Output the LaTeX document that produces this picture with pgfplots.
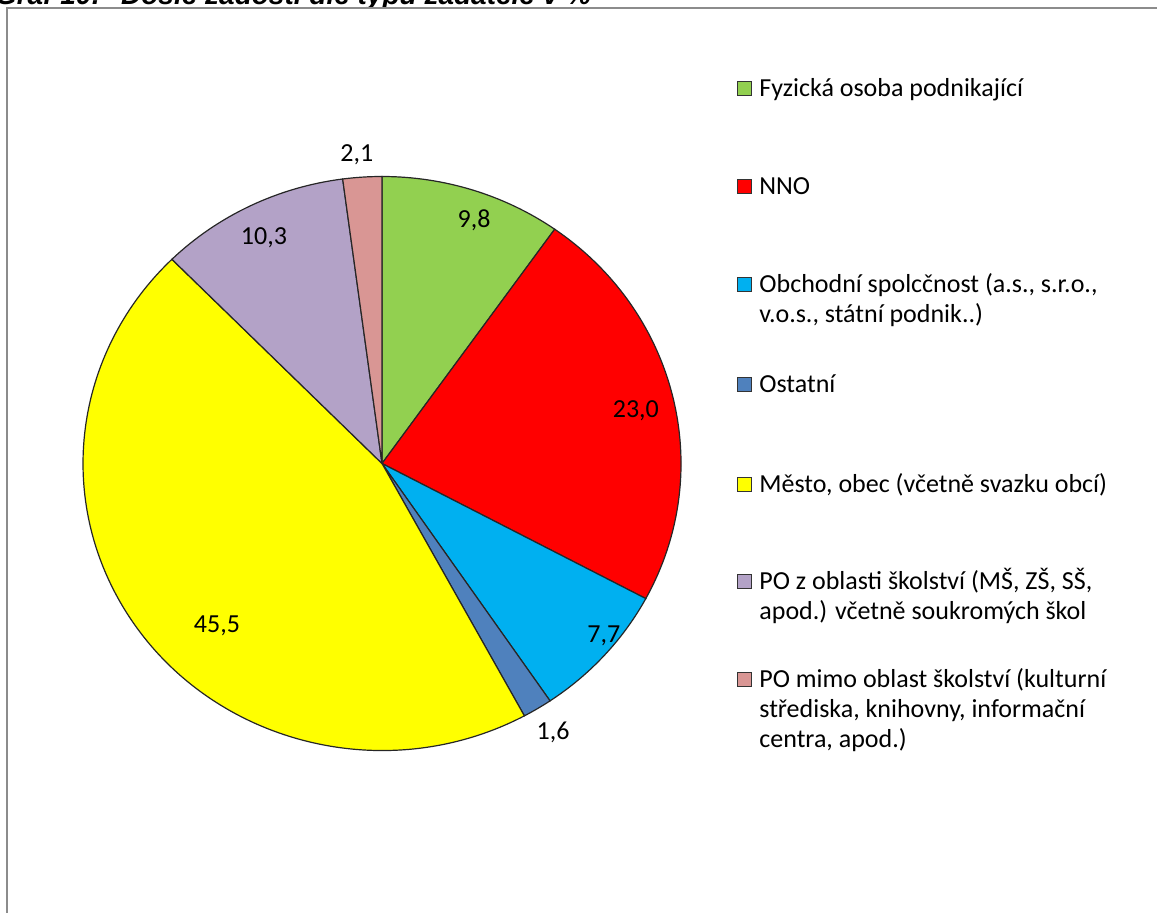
\documentclass[border=0pt]{standalone}
\usepackage{fontspec}
\setmainfont{Carlito}
\newfontfamily\titlefont{Liberation Sans}
\usepackage{pgfplots}
\usepackage{pgfplotstable}
\pgfplotsset{compat=1.18}

\definecolor{cFyz}{HTML}{92D050}
\definecolor{cNNO}{HTML}{FF0000}
\definecolor{cObch}{HTML}{00B0F0}
\definecolor{cOst}{HTML}{4F81BD}
\definecolor{cMes}{HTML}{FFFF00}
\definecolor{cPOs}{HTML}{B3A2C7}
\definecolor{cPOm}{HTML}{D99694}
\definecolor{frameg}{HTML}{8C8C8C}

% share in %, colour, label position (in radii)
\pgfplotstableread{
val  col   lx     ly
9.8  cFyz  0.308  0.848
23.0 cNNO  0.849  0.183
7.7  cObch 0.742 -0.601
1.6  cOst  0.572 -0.936
45.5 cMes -0.552 -0.566
10.3 cPOs -0.395  0.786
2.1  cPOm -0.084  1.075
}\piedata

% pixel position of the reference -> picture coordinates
\newcommand\pxy[2]{({(#1)*0.5pt},{-(#2)*0.5pt})}
\newcommand\lfont{\fontsize{13}{15}\selectfont}

\begin{document}
\begin{tikzpicture}
\path[use as bounding box] (0,0) rectangle (578.5pt,-456.5pt);

% title, cut off by the top of the picture
\begin{scope}
  \clip (0,0) rectangle (578.5pt,-3.5pt);
  \node[anchor=base east, inner sep=0pt, font=\titlefont\bfseries\itshape\fontsize{14}{16}\selectfont]
    at \pxy{591.5}{4.7} {Graf 10:\hspace{5pt} Došlé žádosti dle typu žadatele v \%};
\end{scope}
\draw[frameg, line width=1pt] \pxy{7}{914} -- \pxy{7}{8} -- \pxy{1158}{8};

\begin{axis}[
  hide axis,
  x=149.5pt, y=143.5pt,
  xmin=-1, xmax=1, ymin=-1, ymax=1,
  at={(191pt,-231.75pt)}, anchor=origin,
  clip=false,
]
\gdef\piecum{90}
\pgfplotsinvokeforeach{0,...,6}{%
  \pgfplotstablegetelem{#1}{val}\of\piedata \let\pieval\pgfplotsretval
  \pgfplotstablegetelem{#1}{col}\of\piedata \let\piecol\pgfplotsretval
  \pgfplotstablegetelem{#1}{lx}\of\piedata \let\pielx\pgfplotsretval
  \pgfplotstablegetelem{#1}{ly}\of\piedata \let\piely\pgfplotsretval
  \pgfmathsetmacro\piea{\piecum}
  \pgfmathsetmacro\pieb{\piecum-3.6*\pieval}
  \xdef\piecum{\pieb}
  \edef\next{%
    \noexpand\filldraw[fill=\piecol, draw=black!85, line width=0.6pt]
      (axis cs:0,0) -- (axis cs:{cos(\piea)},{sin(\piea)})
      arc[start angle=\piea, end angle=\pieb, x radius=149.5pt, y radius=143.5pt] -- cycle;
    \noexpand\node[font=\noexpand\lfont, inner sep=0pt] at (axis cs:\pielx,\piely)
      {\noexpand\pgfmathprintnumber[use comma, fixed, fixed zerofill, precision=1, assume math mode=true]{\pieval}};
  }%
  \next
}
\end{axis}

% legend
\foreach \y/\c in {97/cFyz,195/cNNO,293/cObch,393/cOst,493/cMes,590/cPOs,688/cPOm}
  \filldraw[fill=\c, draw=black!80, line width=0.5pt] \pxy{737.5}{\y-15.5} rectangle \pxy{751.5}{\y-1.5};
\begin{scope}[every node/.style={anchor=base west, inner sep=0pt, font=\lfont}]
  \node at \pxy{759}{97} {Fyzická osoba podnikající};
  \node at \pxy{759}{195} {NNO};
  \node at \pxy{759}{293} {Obchodní spolcčnost (a.s., s.r.o.,};
  \node at \pxy{759}{323} {v.o.s., státní podnik..)};
  \node at \pxy{759}{393} {Ostatní};
  \node at \pxy{759}{493} {Město, obec (včetně svazku obcí)};
  \node at \pxy{759}{590} {PO z oblasti školství (MŠ, ZŠ, SŠ,};
  \node at \pxy{759}{620} {apod.) včetně soukromých škol};
  \node at \pxy{759}{688} {PO mimo oblast školství (kulturní};
  \node at \pxy{759}{718} {střediska, knihovny, informační};
  \node at \pxy{759}{748} {centra, apod.)};
\end{scope}
\end{tikzpicture}
\end{document}
